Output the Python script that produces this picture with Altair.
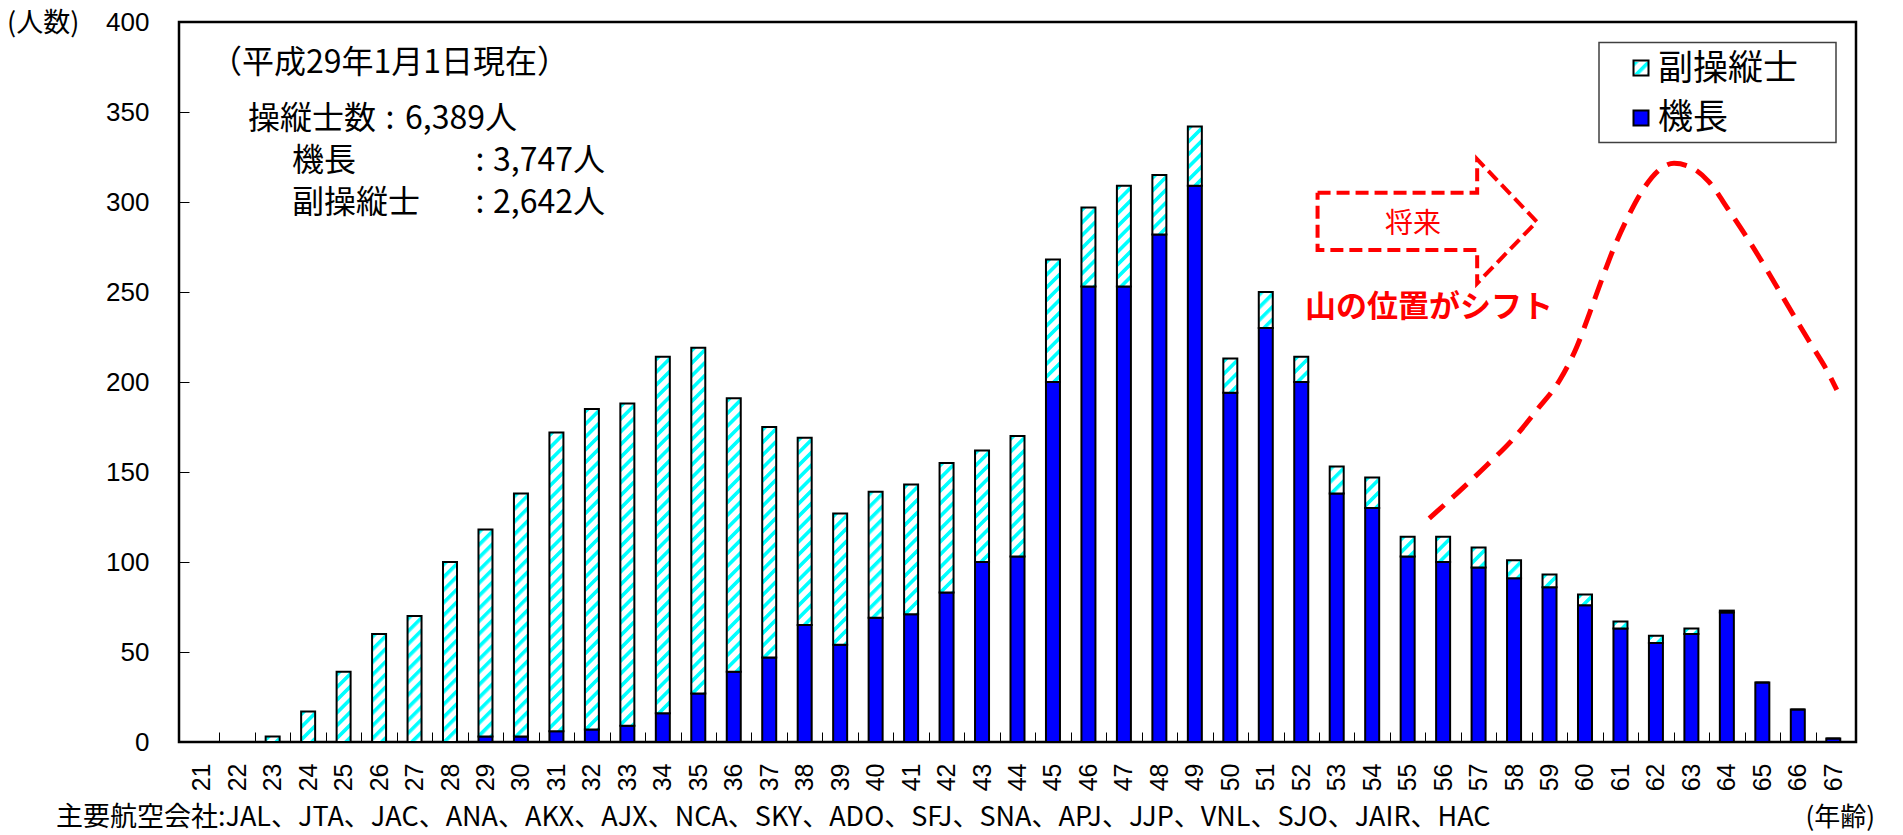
import base64
import altair as alt
import pandas as pd

# ---------------- data ----------------
ages = [21, 22, 23, 24, 25, 26, 27, 28, 29, 30, 31, 32, 33, 34, 35, 36, 37, 38, 39, 40,
        41, 42, 43, 44, 45, 46, 47, 48, 49, 50, 51, 52, 53, 54, 55, 56, 57, 58, 59, 60,
        61, 62, 63, 64, 65, 66, 67]
captain = [0, 0, 0, 0, 0, 0, 0, 0, 3, 3, 6, 7, 9, 16, 27, 39, 47, 65, 54, 69,
           71, 83, 100, 103, 200, 253, 253, 282, 309, 194, 230, 200, 138, 130, 103, 100, 97, 91, 86, 76,
           63, 55, 60, 72, 33, 18, 2]
copilot = [0, 0, 3, 17, 39, 60, 70, 100, 115, 135, 166, 178, 179, 198, 192, 152, 128, 104, 73, 70,
           72, 72, 62, 67, 68, 44, 56, 33, 33, 19, 20, 14, 15, 17, 11, 14, 11, 10, 7, 6,
           4, 4, 3, 1, 0, 0, 0]
y_ticks = [0, 50, 100, 150, 200, 250, 300, 350, 400]

# illustrative "future" curve and arrow (age, count)
curve_age = [55.61, 56.40, 57.24, 57.99, 58.64, 59.29, 59.77, 60.13, 60.47, 60.79, 61.17, 61.63,
             62.09, 62.51, 63.04, 63.49, 64.05, 64.61, 65.18, 65.74, 66.30, 66.86, 67.10]
curve_count = [124.3, 138.3, 153.9, 168.7, 184.4, 201.1, 219.6, 238.3, 256.7, 273.3, 290.0, 306.7,
               317.8, 321.5, 318.7, 311.3, 295.6, 278.9, 260.6, 241.8, 223.3, 205.0, 195.6]
arrow_age = [52.46, 56.96, 56.96, 58.64, 56.96, 56.96, 52.46, 52.46]
arrow_count = [305.2, 305.2, 323.7, 289.1, 254.8, 273.3, 273.3, 305.2]

# ---------------- styling ----------------
JP = "Noto Sans CJK JP"
NUM = "Liberation Sans"
BLUE = "#0000FF"
RED = "#FF0000"
PLOT_W, PLOT_H = 1677, 720

bars_df = pd.DataFrame({"age": ages, "captain": captain, "copilot": copilot})
curve_df = pd.DataFrame({"order": list(range(len(curve_age))), "age": curve_age, "count": curve_count})
arrow_df = pd.DataFrame({"order": list(range(len(arrow_age))), "age": arrow_age, "count": arrow_count})
one = pd.DataFrame({"k": [0]})

hatch_svg = (
    "<svg xmlns='http://www.w3.org/2000/svg' width='100%' height='100%'>"
    "<defs><pattern id='h' patternUnits='userSpaceOnUse' width='9' height='9' "
    "patternTransform='rotate(45)'>"
    "<rect x='0' y='0' width='3.6' height='9' fill='#00FFFF'/></pattern></defs>"
    "<rect x='0' y='0' width='100%' height='100%' fill='#FFFFFF'/>"
    "<rect x='0' y='0' width='100%' height='100%' fill='url(#h)'/></svg>"
)
HATCH_URL = "data:image/svg+xml;base64," + base64.b64encode(hatch_svg.encode("utf-8")).decode("ascii")

x_scale = alt.Scale(domain=[20.5, 67.5], nice=False, zero=False)
y_scale = alt.Scale(domain=[0, 400], nice=False, zero=True)

x_labels_axis = alt.Axis(values=ages, format="d", labelAngle=270, labelFont=NUM, labelFontSize=25,
                         labelColor="black", labelPadding=21, ticks=False, domain=False, grid=False,
                         title=None, labelOverlap=False, labelFlush=False, orient="bottom")
y_labels_axis = alt.Axis(values=y_ticks, format="d", labelFont=NUM, labelFontSize=26,
                         labelColor="black", labelPadding=30, ticks=False, domain=False, grid=False,
                         title=None, labelOverlap=False, labelFlush=False, orient="left")
x_tick_axis = alt.Axis(values=[a + 0.5 for a in ages[:-1]], labels=False, domain=False, grid=False,
                       title=None, tickSize=10, tickWidth=1, tickColor="black", offset=-10,
                       orient="bottom")
y_tick_axis = alt.Axis(values=y_ticks, labels=False, domain=False, grid=False, title=None,
                       tickSize=10, tickWidth=1, tickColor="black", offset=-10, orient="left")

base = alt.Chart(bars_df).transform_calculate(total="datum.captain + datum.copilot")

captain_bars = base.mark_bar(width=14, fill=BLUE, stroke="black", strokeWidth=2).encode(
    x=alt.X("age:Q", scale=x_scale, axis=x_labels_axis),
    y=alt.Y("captain:Q", scale=y_scale, axis=y_labels_axis),
)
hatch = base.transform_filter("datum.copilot > 0").mark_image(width=13, aspect=False).encode(
    x=alt.X("age:Q", scale=x_scale, axis=None),
    y=alt.Y("total:Q", scale=y_scale, axis=None),
    y2=alt.Y2("captain:Q"),
    url=alt.value(HATCH_URL),
)
copilot_bars = base.mark_bar(width=14, fillOpacity=0, stroke="black", strokeWidth=2).encode(
    x=alt.X("age:Q", scale=x_scale, axis=None),
    y=alt.Y("total:Q", scale=y_scale, axis=None),
    y2=alt.Y2("captain:Q"),
)
tick_layer = base.mark_point(opacity=0).encode(
    x=alt.X("age:Q", scale=x_scale, axis=x_tick_axis),
    y=alt.Y("captain:Q", scale=y_scale, axis=y_tick_axis),
)

curve = alt.Chart(curve_df).mark_line(color=RED, strokeWidth=5, strokeDash=[20, 11],
                                      interpolate="monotone").encode(
    x=alt.X("age:Q", scale=x_scale, axis=None),
    y=alt.Y("count:Q", scale=y_scale, axis=None),
    order="order:Q",
)
arrow = alt.Chart(arrow_df).mark_line(color=RED, strokeWidth=4, strokeDash=[13, 6],
                                      strokeJoin="miter").encode(
    x=alt.X("age:Q", scale=x_scale, axis=None),
    y=alt.Y("count:Q", scale=y_scale, axis=None),
    order="order:Q",
)


def label(text, x, y, size, align="left", weight="normal", color="black", font=JP):
    return alt.Chart(one).mark_text(text=text, align=align, baseline="middle", fontSize=size,
                                    fontWeight=weight, color=color, font=font).encode(
        x=alt.value(x), y=alt.value(y))


def box(x1, x2, y1, y2, **kw):
    return alt.Chart(one).mark_rect(**kw).encode(
        x=alt.value(x1), x2=alt.value(x2), y=alt.value(y1), y2=alt.value(y2))


texts = [
    label("(人数)", -172, 2, 27),
    label("(年齢)", 1696, 796, 26, align="right"),
    label("主要航空会社:JAL、JTA、JAC、ANA、AKX、AJX、NCA、SKY、ADO、SFJ、SNA、APJ、JJP、VNL、SJO、JAIR、HAC",
          -123, 796, 27),
    label("（平成29年1月1日現在）", 31, 41, 32),
    label("操縦士数", 69, 97, 32),
    label(":", 211, 97, 32, align="center"),
    label("6,389人", 226, 97, 32),
    label("機長", 113, 139, 32),
    label(":", 301, 139, 32, align="center"),
    label("3,747人", 314, 139, 32),
    label("副操縦士", 113, 181, 32),
    label(":", 301, 181, 32, align="center"),
    label("2,642人", 314, 181, 32),
    label("将来", 1234, 203, 28, align="center", color=RED),
    label("山の位置がシフト", 1126, 286, 31, weight="bold", color=RED),
]

legend = [
    box(1420, 1657, 20.5, 120.5, fill="white", stroke="#404040", strokeWidth=1.5),
    alt.Chart(one).mark_image(aspect=False).encode(
        x=alt.value(1455), x2=alt.value(1469), y=alt.value(39.5), y2=alt.value(52.5),
        url=alt.value(HATCH_URL)),
    box(1454.5, 1469.5, 38.5, 53.5, fillOpacity=0, stroke="black", strokeWidth=2),
    box(1454.5, 1469.5, 88.5, 103.5, fill=BLUE, stroke="black", strokeWidth=2),
    label("副操縦士", 1479, 47, 35),
    label("機長", 1479, 96, 35),
]

chart = alt.layer(
    captain_bars, hatch, copilot_bars, tick_layer, curve, arrow, *texts, *legend
).resolve_axis(
    x="independent", y="independent"
).properties(
    width=PLOT_W, height=PLOT_H,
    autosize=alt.AutoSizeParams(type="none"),
    padding={"left": 179, "top": 22, "right": 47, "bottom": 93},
    background="white",
).configure_view(stroke="black", strokeWidth=2.5)

chart.save("out.html", embed_options={"renderer": "svg", "actions": False})
